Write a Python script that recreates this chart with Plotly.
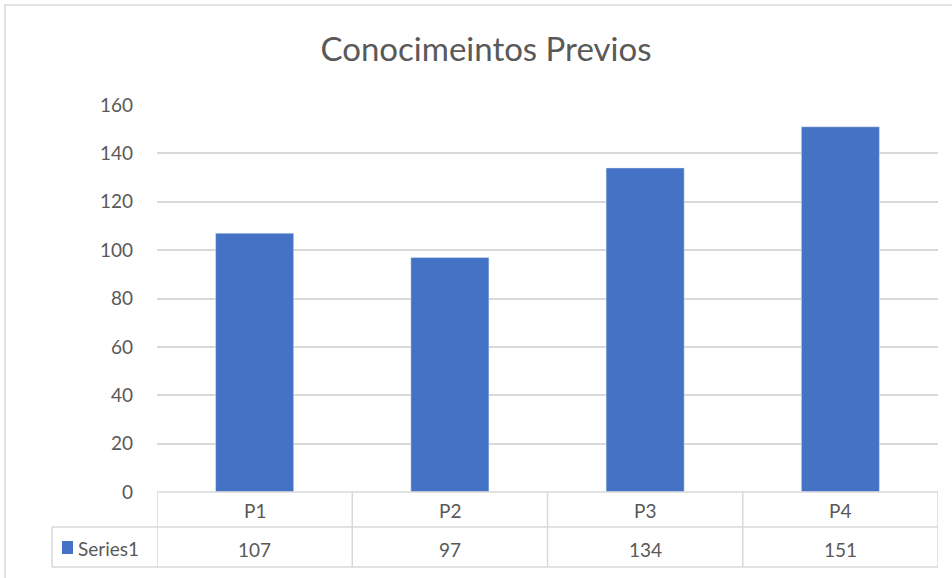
import plotly.graph_objects as go

categories = ["P1", "P2", "P3", "P4"]
values = [107, 97, 134, 151]
series_name = "Series1"
title = "Conocimeintos Previos"
y_ticks = [0, 20, 40, 60, 80, 100, 120, 140, 160]

W, H = 952, 578
L, R, T, B = 157, 938, 105, 492
pw, ph = R - L, B - T

def px_x(x):
    return (x - L) / pw

def px_y(y):
    return (B - y) / ph

FONT = "Lato"
GRID = "#d9d9d9"
TXT = "#595959"
BLUE = "#4472C4"

fig = go.Figure(go.Bar(x=categories, y=values, marker_color=BLUE, width=0.4,
                       name=series_name, showlegend=False))

shapes = []
# outer frame
shapes.append(dict(type="rect", xref="paper", yref="paper", x0=px_x(5), y0=px_y(5),
                   x1=px_x(W + 10), y1=px_y(H + 10), line=dict(color=GRID, width=1.5),
                   layer="below"))
# table horizontal lines
for yy, x0 in [(492, L), (527, 52), (567, 52)]:
    shapes.append(dict(type="line", xref="paper", yref="paper", x0=px_x(x0), x1=1,
                       y0=px_y(yy), y1=px_y(yy), line=dict(color=GRID, width=1.5)))
# table vertical lines at category boundaries
for i in range(len(categories) + 1):
    shapes.append(dict(type="line", xref="x", yref="paper", x0=i - 0.5, x1=i - 0.5,
                       y0=px_y(492), y1=px_y(567), line=dict(color=GRID, width=1.5)))
shapes.append(dict(type="line", xref="paper", yref="paper", x0=px_x(52), x1=px_x(52),
                   y0=px_y(527), y1=px_y(567), line=dict(color=GRID, width=1.5)))
# legend key
shapes.append(dict(type="rect", xref="paper", yref="paper", x0=px_x(62), x1=px_x(73),
                   y0=px_y(554), y1=px_y(541), fillcolor=BLUE, line=dict(width=0)))

annotations = []
for c, v in zip(categories, values):
    annotations.append(dict(x=c, xref="x", y=px_y(510), yref="paper", text=c, yanchor="middle",
                            showarrow=False, font=dict(family=FONT, size=19, color=TXT)))
    annotations.append(dict(x=c, xref="x", y=px_y(549), yref="paper", text=str(v), yanchor="middle",
                            showarrow=False, font=dict(family=FONT, size=19, color=TXT)))
annotations.append(dict(x=px_x(76), xref="paper", y=px_y(548), yref="paper", text=series_name,
                        xanchor="left", yanchor="middle", showarrow=False,
                        font=dict(family=FONT, size=19, color=TXT)))

fig.update_layout(
    width=W, height=H,
    margin=dict(l=L, r=W - R, t=T, b=H - B, pad=0),
    paper_bgcolor="white", plot_bgcolor="white",
    title=dict(text=title, x=486 / W, xanchor="center", y=1 - 49 / H,
               yanchor="middle", font=dict(family=FONT, size=33, color=TXT)),
    xaxis=dict(range=[-0.5, 3.5], showticklabels=False, showgrid=False, zeroline=False,
               showline=False, ticks=""),
    yaxis=dict(range=[0, 160], tickvals=y_ticks, showgrid=True, gridcolor=GRID, gridwidth=1.5,
               zeroline=False, showline=False, ticks="", ticklabelstandoff=23,
               tickfont=dict(family=FONT, size=19, color=TXT)),
    shapes=shapes, annotations=annotations, bargap=0.6,
)

fig.write_html("out.html")
